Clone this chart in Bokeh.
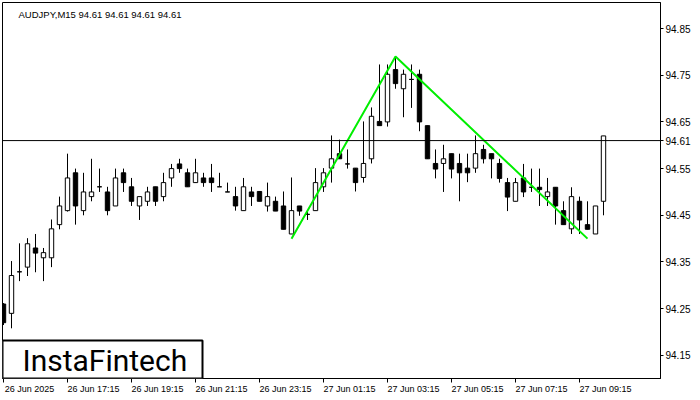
from bokeh.plotting import figure
from bokeh.models import (ColumnDataSource, Range1d, FixedTicker, LinearAxis, Label,
                          BoxAnnotation, Span)
from bokeh.embed import file_html
from bokeh.resources import INLINE

symbol = "AUDJPY,M15"
last_price = 94.61

opens = [94.260, 94.240, 94.329, 94.339, 94.380, 94.359, 94.359, 94.430, 94.460, 94.541,
         94.460, 94.490, 94.511, 94.500, 94.470, 94.541, 94.511, 94.470, 94.480, 94.511,
         94.490, 94.530, 94.560, 94.541, 94.520, 94.530, 94.530, 94.511, 94.500, 94.490,
         94.460, 94.500, 94.501, 94.470, 94.480, 94.470, 94.410, 94.470, 94.452, 94.460,
         94.511, 94.551, 94.582, 94.560, 94.551, 94.531, 94.571, 94.651, 94.650, 94.762,
         94.721, 94.741, 94.752, 94.642, 94.561, 94.561, 94.582, 94.561, 94.551, 94.551,
         94.591, 94.582, 94.561, 94.520, 94.480, 94.530, 94.510, 94.510, 94.490, 94.510,
         94.460, 94.421, 94.480, 94.430, 94.410, 94.480]
highs = [94.262, 94.352, 94.390, 94.401, 94.410, 94.380, 94.441, 94.490, 94.582, 94.550,
         94.541, 94.571, 94.550, 94.511, 94.550, 94.550, 94.530, 94.490, 94.511, 94.511,
         94.541, 94.560, 94.571, 94.550, 94.571, 94.541, 94.560, 94.541, 94.520, 94.511,
         94.530, 94.511, 94.501, 94.520, 94.490, 94.501, 94.531, 94.470, 94.459, 94.551,
         94.551, 94.621, 94.612, 94.591, 94.551, 94.651, 94.681, 94.773, 94.773, 94.789,
         94.762, 94.773, 94.762, 94.642, 94.591, 94.601, 94.582, 94.582, 94.582, 94.621,
         94.601, 94.582, 94.571, 94.530, 94.530, 94.560, 94.550, 94.550, 94.530, 94.510,
         94.480, 94.510, 94.490, 94.480, 94.470, 94.620]
lows = [94.215, 94.208, 94.309, 94.320, 94.328, 94.309, 94.339, 94.420, 94.458, 94.430,
        94.450, 94.480, 94.500, 94.450, 94.470, 94.500, 94.470, 94.440, 94.470, 94.470,
        94.480, 94.511, 94.541, 94.511, 94.520, 94.511, 94.500, 94.511, 94.500, 94.460,
        94.460, 94.470, 94.480, 94.458, 94.459, 94.420, 94.410, 94.449, 94.440, 94.460,
        94.500, 94.520, 94.571, 94.550, 94.501, 94.520, 94.561, 94.642, 94.640, 94.721,
        94.660, 94.680, 94.630, 94.571, 94.529, 94.500, 94.529, 94.480, 94.521, 94.541,
        94.561, 94.529, 94.520, 94.459, 94.480, 94.489, 94.500, 94.470, 94.470, 94.430,
        94.430, 94.410, 94.410, 94.420, 94.410, 94.450]
closes = [94.220, 94.321, 94.329, 94.389, 94.369, 94.370, 94.421, 94.470, 94.530, 94.470,
          94.500, 94.500, 94.511, 94.460, 94.530, 94.520, 94.480, 94.490, 94.500, 94.480,
          94.520, 94.550, 94.550, 94.511, 94.541, 94.520, 94.520, 94.511, 94.500, 94.470,
          94.511, 94.490, 94.480, 94.490, 94.459, 94.420, 94.460, 94.459, 94.452, 94.520,
          94.541, 94.571, 94.571, 94.560, 94.520, 94.561, 94.662, 94.642, 94.752, 94.732,
          94.752, 94.741, 94.650, 94.571, 94.549, 94.571, 94.549, 94.541, 94.541, 94.582,
          94.571, 94.571, 94.529, 94.489, 94.520, 94.500, 94.510, 94.505, 94.500, 94.470,
          94.430, 94.490, 94.440, 94.420, 94.470, 94.620]

time_tick_idx = [0, 8, 16, 24, 32, 40, 48, 56, 64, 72]
time_tick_labels = ["26 Jun 2025", "26 Jun 17:15", "26 Jun 19:15", "26 Jun 21:15",
                    "26 Jun 23:15", "27 Jun 01:15", "27 Jun 03:15", "27 Jun 05:15",
                    "27 Jun 07:15", "27 Jun 09:15"]
price_ticks = [94.15, 94.25, 94.35, 94.45, 94.55, 94.65, 94.75, 94.85]
price_tick_labels = ["94.15", "94.25", "94.35", "94.45", "94.55", "94.65", "94.75", "94.85"]

pattern_idx = [36, 49, 73]
pattern_price = [94.40, 94.79, 94.40]

FONT = "Liberation Sans"

idx = list(range(len(opens)))
up = [c >= o for o, c in zip(opens, closes)]
src = ColumnDataSource(dict(
    x=idx, o=opens, h=highs, l=lows, c=closes,
    top=[max(o, c) for o, c in zip(opens, closes)],
    bot=[min(o, c) for o, c in zip(opens, closes)],
    fill=["white" if u else "black" for u in up],
))

X0, X1 = -0.125, 82.125
Y0, Y1 = 94.1005, 94.9057
LAB_OFF = 3.25

p = figure(width=700, height=400, x_range=Range1d(X0, X1), y_range=Range1d(Y0, Y1),
           output_backend="svg", toolbar_location=None, y_axis_location="right",
           min_border_left=2, min_border_top=2, min_border_right=40, min_border_bottom=22)
p.background_fill_color = "white"
p.border_fill_color = "white"
p.outline_line_color = "black"
p.outline_line_width = 1
p.xgrid.visible = False
p.ygrid.visible = False

# right price axis (regular ticks plus the current price)
axis_ticks = price_ticks + [last_price]
axis_labels = price_tick_labels + [f"{last_price:.2f}"]
ya = p.yaxis[0]
ya.ticker = FixedTicker(ticks=axis_ticks)
ya.major_label_overrides = dict(zip(axis_ticks, axis_labels))
ya.major_tick_out = 3
ya.major_tick_in = 0
ya.minor_tick_out = 0
ya.minor_tick_in = 0
ya.major_label_standoff = 2
ya.axis_line_color = "black"
ya.major_tick_line_color = "black"
ya.major_label_text_font = FONT
ya.major_label_text_font_size = "10px"
ya.major_label_text_color = "black"

# bottom tick marks axis
xa = p.xaxis[0]
xa.ticker = FixedTicker(ticks=time_tick_idx)
xa.major_label_overrides = {t: "" for t in time_tick_idx}
xa.major_label_text_font_size = "0px"
xa.major_label_standoff = 0
xa.major_tick_out = 4
xa.major_tick_in = 0
xa.minor_tick_out = 0
xa.minor_tick_in = 0
xa.axis_line_color = "black"
xa.major_tick_line_color = "black"

# bottom labels axis (labels start at the tick)
p.extra_x_ranges = {"lab": Range1d(X0 - LAB_OFF, X1 - LAB_OFF)}
la = LinearAxis(x_range_name="lab", ticker=FixedTicker(ticks=time_tick_idx),
                major_label_overrides=dict(zip(time_tick_idx, time_tick_labels)))
la.major_tick_out = 0
la.major_tick_in = 0
la.minor_tick_out = 0
la.minor_tick_in = 0
la.axis_line_color = None
la.major_label_standoff = 1
la.major_label_text_font = FONT
la.major_label_text_font_size = "9px"
la.major_label_text_color = "black"
p.add_layout(la, "below")

# current price line
p.add_layout(Span(location=last_price, dimension="width", line_color="black", line_width=1))

# candles
p.segment(x0="x", y0="l", x1="x", y1="h", source=src, line_color="black", line_width=1)
p.vbar(x="x", width=0.55, top="top", bottom="bot", source=src,
       fill_color="fill", line_color="black", line_width=1)

# pattern
p.line(pattern_idx, pattern_price, line_color="#00ee00", line_width=2)

# title
p.add_layout(Label(x=1.875, y=94.879, text=f"{symbol}  " + " ".join([f"{last_price:.2f}"] * 4),
                   text_font=FONT, text_font_size="9.5px", text_color="black",
                   text_baseline="alphabetic", text_align="left"))

# logo
p.add_layout(BoxAnnotation(left=X0, right=24.875, bottom=Y0, top=94.182,
                           fill_color="white", fill_alpha=1.0,
                           line_color="black", line_alpha=1.0, line_width=2))
p.add_layout(Label(x=2.375, y=94.140, text="InstaFintech", text_font="Roboto",
                   text_font_size="30px", text_color="black",
                   text_baseline="middle", text_align="left"))

open("out.html", "w").write(file_html(p, INLINE))
